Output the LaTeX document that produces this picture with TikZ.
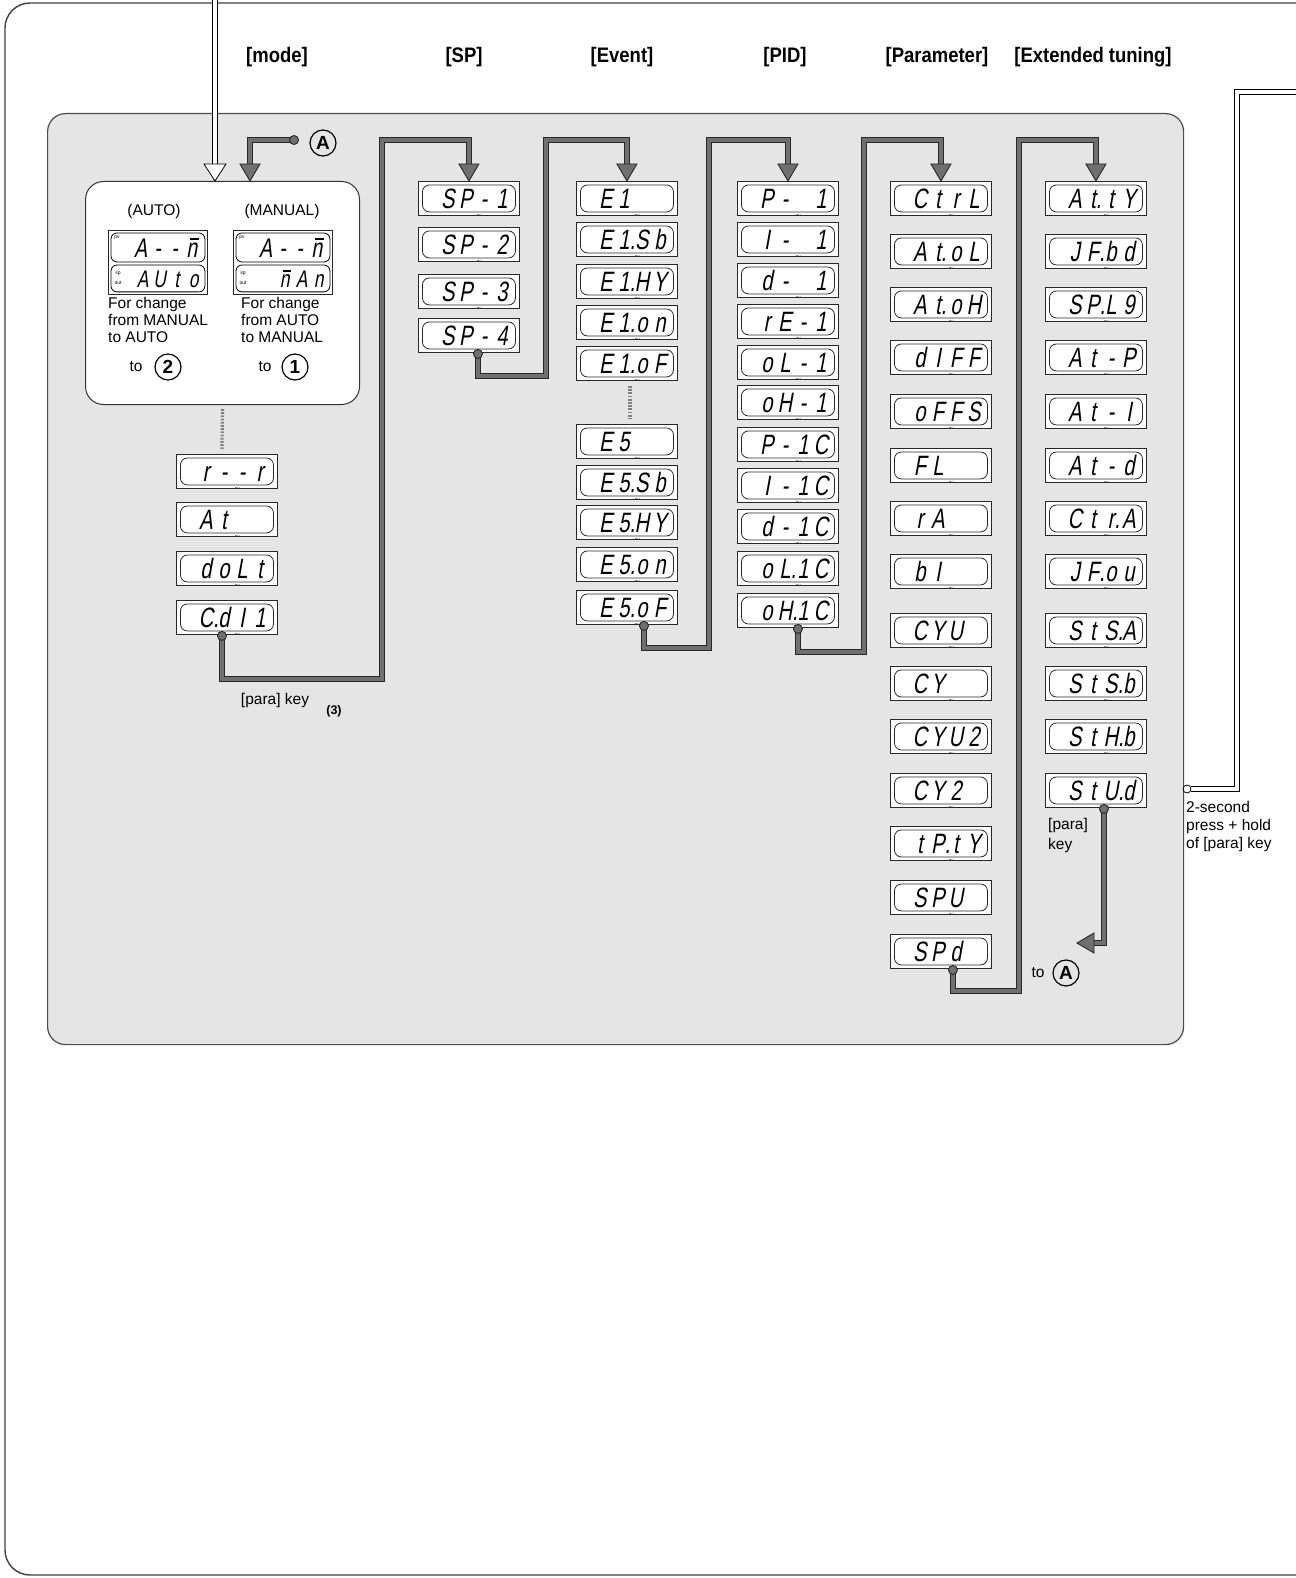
\documentclass[tikz,border=0pt]{standalone}
\usepackage{fontspec}
\setmainfont{Liberation Sans}
\newfontfamily\segfont[FakeStretch=0.72,FakeSlant=0.18]{Liberation Sans}
\newfontfamily\headfont[FakeStretch=0.88]{Liberation Sans}
\usetikzlibrary{calc}
\definecolor{cgray}{RGB}{112,112,112}
\definecolor{lcol}{RGB}{40,40,40}
\newcommand\Dt{\rlap{.}}
\newcommand\cellbox[1]{\makebox[18pt][c]{#1}}
\newcommand\segtxt[4]{\hspace*{12pt}\cellbox{#1}\cellbox{#2}\cellbox{#3}\cellbox{#4}}
\newcommand\scell[1]{\makebox[17pt][c]{#1}}
\newcommand\barn{\rlap{\hspace{0.12em}\raisebox{0.66em}{\rule{0.36em}{0.06em}}}n}
\tikzset{
  disp/.style={draw=lcol, line width=0.9pt, fill=white, anchor=north west,
    minimum width=101pt, minimum height=34pt, inner sep=0pt,
    text height=20pt, text depth=0pt,
    font=\segfont\fontsize{28}{28}\selectfont,
    path picture={
      \draw[line width=0.8pt, rounded corners=7pt]
        ([shift={(4pt,-3.5pt)}]path picture bounding box.north west) rectangle
        ([shift={(-4pt,3.5pt)}]path picture bounding box.south east);
      \node[font=\normalfont\fontsize{5}{5}\selectfont, inner sep=0pt]
        at ([shift={(10pt,-9pt)}]path picture bounding box.north west) {pv};
    }},
  conn/.style={draw=lcol, line width=1pt, double=cgray, double distance=3.8pt, line join=miter},
  wconn/.style={draw=black, line width=0.75pt, double=white, double distance=4pt, line join=miter},
  lbl/.style={font=\normalfont\fontsize{15.5}{17}\selectfont, inner sep=0pt},
  head/.style={font=\headfont\bfseries\fontsize{21}{21}\selectfont, inner sep=0pt},
  circ/.style={circle, draw=black, line width=1.2pt, minimum size=26pt, inner sep=0pt,
    font=\normalfont\bfseries\fontsize{19}{19}\selectfont},
  dotline/.style={draw=black!50, line width=3.2pt, dash pattern=on 1.8pt off 1.4pt},
  segtop/.style={font=\segfont\fontsize{27}{27}\selectfont, inner sep=0pt, anchor=west,
    text height=19pt, text depth=0pt},
  segbot/.style={font=\segfont\fontsize{24}{24}\selectfont, inner sep=0pt, anchor=west,
    text height=17pt, text depth=0pt}
}
\newcommand\garrow[1]{\filldraw[fill=cgray,draw=lcol,line width=0.9pt,line join=miter]
  ($(#1.north)+(-10,-17)$) -- ($(#1.north)+(10,-17)$) -- (#1.north) -- cycle;}
\newcommand\gdot[1]{\filldraw[fill=cgray,draw=lcol,line width=0.9pt] (#1) circle (4.5pt);}
\newcommand\dualdisp[5]{%
  \node[draw=lcol,line width=0.9pt,fill=white,minimum width=99pt,minimum height=64pt,
    inner sep=0pt,anchor=north west] (#1) at (#2,#3) {};
  \draw[line width=0.8pt,rounded corners=6pt] ($(#1.north west)+(3,3)$) rectangle ($(#1.north east)+(-3,32)$);
  \draw[line width=0.8pt,rounded corners=6pt] ($(#1.north west)+(3,35)$) rectangle ($(#1.south east)+(-3,-3)$);
  \node[font=\normalfont\fontsize{5}{5}\selectfont, inner sep=0pt] at ($(#1.north west)+(9,8)$) {pv};
  \node[font=\normalfont\fontsize{5}{5}\selectfont, inner sep=0pt] at ($(#1.north west)+(10,44)$) {sp};
  \node[font=\normalfont\fontsize{5}{5}\selectfont, inner sep=0pt] at ($(#1.north west)+(10,53)$) {out};
  \node[segtop] at ($(#1.north west)+(24,18)$) {#4};
  \node[segbot] at ($(#1.north west)+(26,49)$) {#5};
}
\begin{document}
\begin{tikzpicture}[x=1pt,y=-1pt]
\useasboundingbox (0,0) rectangle (1295,1578);
% outer frame
\draw[draw=black!75, line width=1.4pt, rounded corners=25pt] (1320,3) -- (5,3) -- (5,1575) -- (1320,1575);
% headings
\node[head] (hmode) at (277,57) {[mode]};
\node[head] (hsp) at (464,57) {[SP]};
\node[head] (hev) at (622,57) {[Event]};
\node[head] (hpid) at (785,57) {[PID]};
\node[head] (hpar) at (937,57) {[Parameter]};
\node[head] (hext) at (1093,57) {[Extended tuning]};
% panel
\node[draw=black!70, line width=1.2pt, fill=black!10, rounded corners=18pt, minimum width=1136pt,
  minimum height=931pt, anchor=north west, inner sep=0pt] (panel) at (47,113) {};
% mode box
\node[draw=black!80, line width=1pt, fill=white, rounded corners=18pt, minimum width=274pt,
  minimum height=223pt, anchor=north west, inner sep=0pt] (modebox) at (85,181) {};
\node[lbl] (lauto) at (154,211) {(AUTO)};
\node[lbl] (lman) at (282,211) {(MANUAL)};
\dualdisp{dauto}{108}{230}{\scell{A}\scell{-}\scell{-}\scell{\barn}}{\scell{A}\scell{U}\scell{t}\scell{o}}
\dualdisp{dman}{233}{230}{\scell{A}\scell{-}\scell{-}\scell{\barn}}{\scell{}\scell{\barn}\scell{A}\scell{n}}
\node[lbl, anchor=north west, align=left] (tauto) at (108,297) {For change\\from MANUAL\\to AUTO};
\node[lbl, anchor=north west, align=left] (tman) at (241,297) {For change\\from AUTO\\to MANUAL};
\node[lbl] (to2) at (136,367) {to};
\node[circ] (c2) at (168,367) {2};
\node[lbl] (to1) at (265,367) {to};
\node[circ] (c1) at (295,367) {1};
% A marker and arrows into mode box
\node[circ] (ca) at (323,143) {A};
\coordinate (adot) at (294,140);
\coordinate (atip) at (250,181);
\draw[conn] (adot) -| ($(atip)+(0,-16)$);
\filldraw[fill=cgray,draw=lcol,line width=0.9pt,line join=miter] ($(atip)+(-10,-17)$) -- ($(atip)+(10,-17)$) -- (atip) -- cycle;
\gdot{adot}
\coordinate (wtop) at (215,-5);
\coordinate (wtip) at (215,181);
\draw[wconn] (wtop) -- ($(wtip)+(0,-16)$);
\filldraw[fill=white,draw=black,line width=0.8pt,line join=miter] ($(wtip)+(-11,-17)$) -- ($(wtip)+(11,-17)$) -- (wtip) -- cycle;
% mode column
\node[disp] (m1) at (176,454) {\segtxt{r}{-}{-}{r}};
\node[disp] (m2) at (176,502) {\segtxt{A}{t}{}{}};
\node[disp] (m3) at (176,551) {\segtxt{d}{o}{L}{t}};
\node[disp] (m4) at (176,600) {\segtxt{C\Dt}{d}{I}{1}};
\draw[dotline] ($(modebox.south)+(0,4)$) -- ($(m1.north)+(-5,-5)$);
% SP column
\node[disp] (sp1) at (418,181) {\segtxt{S}{P}{-}{1}};
\node[disp] (sp2) at (418,227) {\segtxt{S}{P}{-}{2}};
\node[disp] (sp3) at (418,274) {\segtxt{S}{P}{-}{3}};
\node[disp] (sp4) at (418,318) {\segtxt{S}{P}{-}{4}};
% Event column
\node[disp] (e1) at (576,181) {\segtxt{E}{1}{}{}};
\node[disp] (e1sb) at (576,222) {\segtxt{E}{1\Dt}{S}{b}};
\node[disp] (e1hy) at (576,264) {\segtxt{E}{1\Dt}{H}{Y}};
\node[disp] (e1on) at (576,305) {\segtxt{E}{1\Dt}{o}{n}};
\node[disp] (e1of) at (576,346) {\segtxt{E}{1\Dt}{o}{F}};
\node[disp] (e5) at (576,424) {\segtxt{E}{5}{}{}};
\node[disp] (e5sb) at (576,465) {\segtxt{E}{5\Dt}{S}{b}};
\node[disp] (e5hy) at (576,505) {\segtxt{E}{5\Dt}{H}{Y}};
\node[disp] (e5on) at (576,547) {\segtxt{E}{5\Dt}{o}{n}};
\node[disp] (e5of) at (576,590) {\segtxt{E}{5\Dt}{o}{F}};
\draw[dotline] ($(e1of.south)+(3,5)$) -- ($(e5.north)+(3,-6)$);
% PID column
\node[disp] (p1) at (737,181) {\segtxt{P}{-}{}{1}};
\node[disp] (p2) at (737,222) {\segtxt{I}{-}{}{1}};
\node[disp] (p3) at (737,263) {\segtxt{d}{-}{}{1}};
\node[disp] (p4) at (737,304) {\segtxt{r}{E}{-}{1}};
\node[disp] (p5) at (737,345) {\segtxt{o}{L}{-}{1}};
\node[disp] (p6) at (737,385) {\segtxt{o}{H}{-}{1}};
\node[disp] (p7) at (737,427) {\segtxt{P}{-}{1}{C}};
\node[disp] (p8) at (737,468) {\segtxt{I}{-}{1}{C}};
\node[disp] (p9) at (737,509) {\segtxt{d}{-}{1}{C}};
\node[disp] (p10) at (737,551) {\segtxt{o}{L\Dt}{1}{C}};
\node[disp] (p11) at (737,593) {\segtxt{o}{H\Dt}{1}{C}};
% Parameter column
\node[disp] (q1) at (890,181) {\segtxt{C}{t}{r}{L}};
\node[disp] (q2) at (890,234) {\segtxt{A}{t\Dt}{o}{L}};
\node[disp] (q3) at (890,287) {\segtxt{A}{t\Dt}{o}{H}};
\node[disp] (q4) at (890,340) {\segtxt{d}{I}{F}{F}};
\node[disp] (q5) at (890,394) {\segtxt{o}{F}{F}{S}};
\node[disp] (q6) at (890,448) {\segtxt{F}{L}{}{}};
\node[disp] (q7) at (890,501) {\segtxt{r}{A}{}{}};
\node[disp] (q8) at (890,554) {\segtxt{b}{I}{}{}};
\node[disp] (q9) at (890,613) {\segtxt{C}{Y}{U}{}};
\node[disp] (q10) at (890,666) {\segtxt{C}{Y}{}{}};
\node[disp] (q11) at (890,719) {\segtxt{C}{Y}{U}{2}};
\node[disp] (q12) at (890,773) {\segtxt{C}{Y}{2}{}};
\node[disp] (q13) at (890,826) {\segtxt{t}{P\Dt}{t}{Y}};
\node[disp] (q14) at (890,880) {\segtxt{S}{P}{U}{}};
\node[disp] (q15) at (890,934) {\segtxt{S}{P}{d}{}};
% Extended tuning column
\node[disp] (x1) at (1045,181) {\segtxt{A}{t\Dt}{t}{Y}};
\node[disp] (x2) at (1045,234) {\segtxt{J}{F\Dt}{b}{d}};
\node[disp] (x3) at (1045,287) {\segtxt{S}{P\Dt}{L}{9}};
\node[disp] (x4) at (1045,340) {\segtxt{A}{t}{-}{P}};
\node[disp] (x5) at (1045,394) {\segtxt{A}{t}{-}{I}};
\node[disp] (x6) at (1045,448) {\segtxt{A}{t}{-}{d}};
\node[disp] (x7) at (1045,501) {\segtxt{C}{t}{r\Dt}{A}};
\node[disp] (x8) at (1045,554) {\segtxt{J}{F\Dt}{o}{u}};
\node[disp] (x9) at (1045,613) {\segtxt{S}{t}{S\Dt}{A}};
\node[disp] (x10) at (1045,666) {\segtxt{S}{t}{S\Dt}{b}};
\node[disp] (x11) at (1045,719) {\segtxt{S}{t}{H\Dt}{b}};
\node[disp] (x12) at (1045,773) {\segtxt{S}{t}{U\Dt}{d}};
% connectors between columns
\draw[conn] ($(m4.south)+(-5,0)$) -- ++(0,44) -| (382,140) -| ($(sp1.north)+(0,-16)$);
\garrow{sp1}\gdot{$(m4.south)+(-5,1)$}
\draw[conn] ($(sp4.south)+(9,0)$) -- ++(0,23) -| (546,140) -| ($(e1.north)+(0,-16)$);
\garrow{e1}\gdot{$(sp4.south)+(9,1)$}
\draw[conn] ($(e5of.south)+(17,0)$) -- ++(0,23) -| (709,140) -| ($(p1.north)+(0,-16)$);
\garrow{p1}\gdot{$(e5of.south)+(17,1)$}
\draw[conn] ($(p11.south)+(10,0)$) -- ++(0,24) -| (864,140) -| ($(q1.north)+(0,-16)$);
\garrow{q1}\gdot{$(p11.south)+(10,1)$}
\draw[conn] ($(q15.south)+(12,0)$) -- ++(0,22) -| (1019,140) -| ($(x1.north)+(0,-16)$);
\garrow{x1}\gdot{$(q15.south)+(12,1)$}
% return to A
\coordinate (rtip) at (1077,943);
\draw[conn] ($(x12.south)+(8,0)$) |- ($(rtip)+(16,0)$);
\filldraw[fill=cgray,draw=lcol,line width=0.9pt,line join=miter] ($(rtip)+(17,-10)$) -- ($(rtip)+(17,10)$) -- (rtip) -- cycle;
\gdot{$(x12.south)+(8,1)$}
\node[lbl, anchor=north west, align=left, font=\normalfont\fontsize{15.5}{20}\selectfont] (xpk) at (1048,818) {[para]\\key};
\node[lbl] (toa) at (1038,973) {to};
\node[circ] (ca2) at (1066,973) {A};
% para key label
\node[lbl] (pk) at (275,700) {[para] key};
\node[font=\normalfont\bfseries\fontsize{12.5}{12.5}\selectfont, inner sep=0pt] (n3) at (334,711) {(3)};
% right white line: 2-second press
\coordinate (rtop) at (1320,92);
\coordinate (rend) at (1191,789);
\draw[wconn] (rtop) -- (1237,92) |- (rend);
\filldraw[fill=white,draw=black,line width=0.8pt] (1187,789) circle (4pt);
\node[lbl, anchor=north west, align=left, font=\normalfont\fontsize{15.5}{18}\selectfont] (hold) at (1186,801) {2-second\\press + hold\\of [para] key};
\end{tikzpicture}
\end{document}
